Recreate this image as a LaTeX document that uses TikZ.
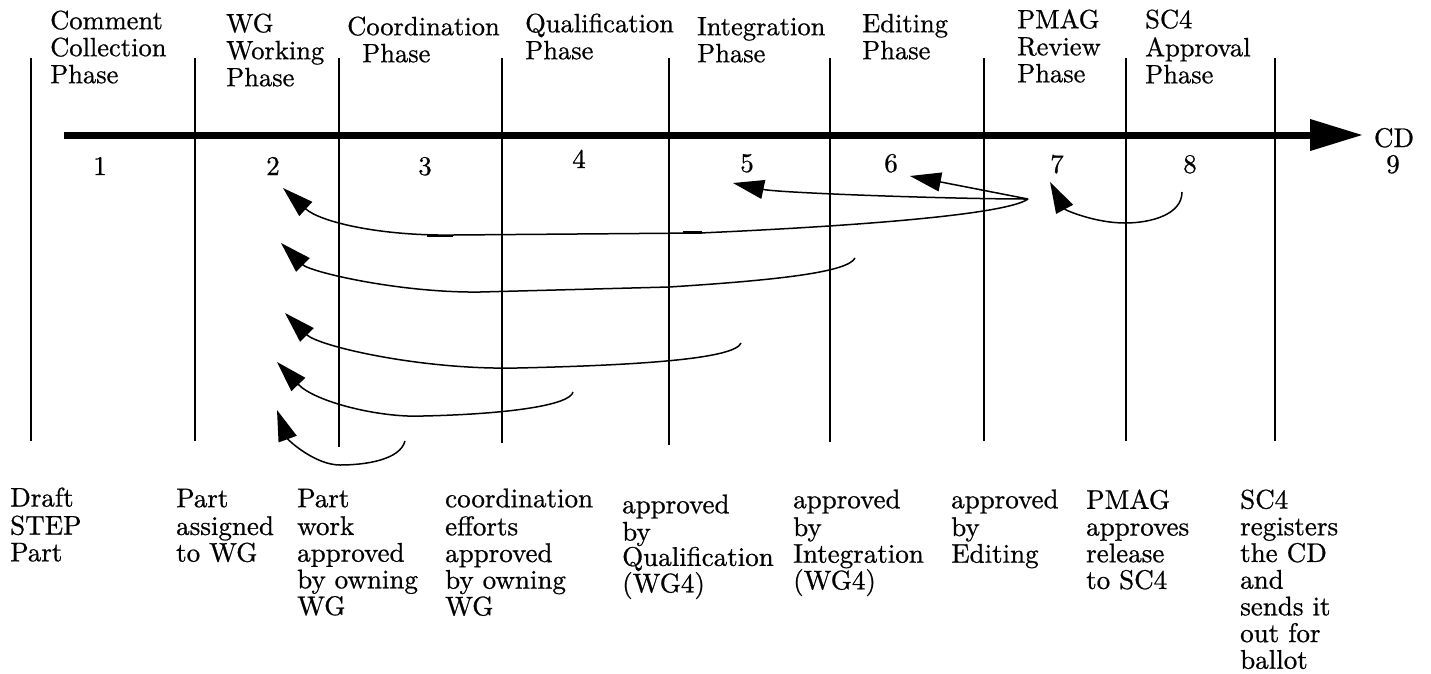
\documentclass[tikz,border=0pt]{standalone}
\usepackage{fontspec}
\setmainfont{lmroman10-regular.otf}[FakeBold=0.7]
\usetikzlibrary{arrows.meta}
\begin{document}
\begin{tikzpicture}[x=1pt,y=-1pt,
  toplab/.style={anchor=north west, inner sep=0pt, align=left, font=\fontsize{26.5}{27}\selectfont},
  botlab/.style={anchor=north west, inner sep=0pt, align=left, font=\fontsize{27}{26.7}\selectfont},
  num/.style={anchor=base, inner sep=0pt, font=\fontsize{27}{27}\selectfont},
  phaseline/.style={line width=1.4pt},
  back/.style={line width=1.5pt, -{Triangle[length=31pt,width=19pt]}},
  mainline/.style={line width=7pt, -{Triangle[length=53pt,width=30pt]}}
]
\fill[white] (0,0) rectangle (1431,673);
\useasboundingbox (0,0) rectangle (1431,673);

% phase separators
\foreach \x/\b in {31/441,195/441,339/447,502/443,669/445,830/442,984/441,1126/441,1275/441}
  \draw[phaseline] (\x,58) -- (\x,\b);

% main time line
\coordinate (ms) at (64,135);
\coordinate (me) at (1363,135);
\draw[mainline] (ms) -- (me);

% phase headings
\node[toplab] (h1) at (50,10.1) {\strut Comment\\Collection\\Phase};
\node[toplab] (h2) at (226,13.1) {\strut WG\\Working\\Phase};
\node[toplab] (h3) at (347,16.1) {\strut Coordination\\\hspace*{15pt}Phase};
\node[toplab] (h4) at (525,13.1) {\strut Qualification\\Phase};
\node[toplab] (h5) at (697,16.1) {\strut Integration\\Phase};
\node[toplab] (h6) at (862,13.1) {\strut Editing\\Phase};
\node[toplab] (h7) at (1017,9.1) {\strut PMAG\\Review\\Phase};
\node[toplab] (h8) at (1145,9.1) {\strut SC4\\Approval\\Phase};

% numbers
\node[num] (n1) at (100,175) {1};
\node[num] (n2) at (273,175) {2};
\node[num] (n3) at (425,175) {3};
\node[num] (n4) at (579,168) {4};
\node[num] (n5) at (747,172) {5};
\node[num] (n6) at (891,172) {6};
\node[num] (n7) at (1057,173) {7};
\node[num] (n8) at (1190,173) {8};
\node[num] (cd) at (1394,147) {CD};
\node[num] (n9) at (1393,173) {9};

% milestone texts
\node[botlab] (m1) at (10,487.3) {\strut Draft\\STEP\\Part};
\node[botlab] (m2) at (176,488.3) {\strut Part\\assigned\\to WG};
\node[botlab] (m3) at (297,488.3) {\strut Part\\work\\approved\\by owning\\WG};
\node[botlab] (m4) at (445,488.3) {\strut coordination\\efforts\\approved\\by owning\\WG};
\node[botlab, font=\fontsize{27}{25.3}\selectfont] (m5) at (622,494.3) {\strut approved\\by\\Qualification\\(WG4)};
\node[botlab] (m6) at (793,489.3) {\strut approved\\by\\Integration\\(WG4)};
\node[botlab] (m7) at (951,489.3) {\strut approved\\by\\Editing};
\node[botlab] (m8) at (1086,489.3) {\strut PMAG\\approves\\release\\to SC4};
\node[botlab] (m9) at (1240,489.3) {\strut SC4\\registers\\the CD\\and\\sends it\\out for\\ballot};

% rework arrows
\coordinate (p7) at (1028,199);
\coordinate (t5) at (733,183);
\coordinate (t6) at (910,176);
\coordinate (t2a) at (283,188);
\coordinate (sB) at (855,258);
\coordinate (t2b) at (281,243);
\coordinate (sC) at (741,343);
\coordinate (t2c) at (285,313);
\coordinate (sD) at (573,392);
\coordinate (t2d) at (277,362);
\coordinate (sE) at (405,441);
\coordinate (t2e) at (277,410);
\coordinate (s8) at (1182,192);
\coordinate (t7) at (1050,182);

\draw[back] (p7) -- (t6);
\draw[back] (p7) .. controls (950,199) and (780,193) .. (t5);
\draw[back] (p7) .. controls (1010,212) and (900,224) .. (700,233) -- (453,235) .. controls (380,236) and (320,222) .. (t2a);
\draw[line width=2.2pt] (427,235.6) -- (453,235.6);
\draw[line width=2.2pt] (683,232.4) -- (702,232.4);
\draw[back] (sB) .. controls (848,272) and (780,280) .. (669,287) -- (480,292) .. controls (400,293) and (310,272) .. (t2b);
\draw[back] (sC) .. controls (735,358) and (650,365) .. (517,368) .. controls (420,370) and (318,346) .. (t2c);
\draw[back] (sD) .. controls (570,405) and (510,414) .. (423,416) .. controls (380,418) and (315,402) .. (t2d);
\draw[back] (sE) .. controls (400,460) and (365,465) .. (340,465) .. controls (315,465) and (288,440) .. (t2e);
\draw[back] (s8) .. controls (1182,215) and (1150,223) .. (1125,223) .. controls (1095,223) and (1065,210) .. (t7);
\end{tikzpicture}
\end{document}
